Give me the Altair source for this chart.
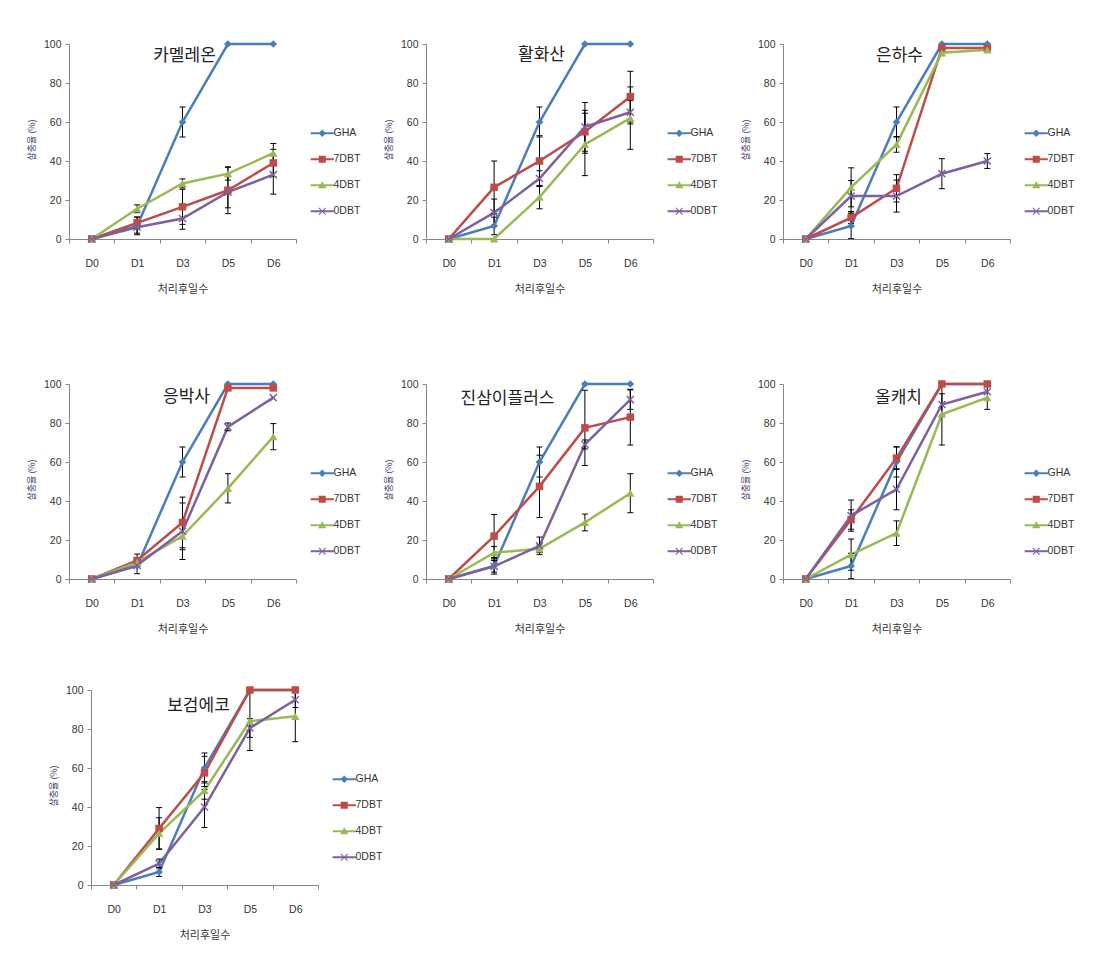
import altair as alt
import pandas as pd

days = ["D0", "D1", "D3", "D5", "D6"]
series = ["GHA", "7DBT", "4DBT", "0DBT"]
colors = ["#4A7EBB", "#BE4B48", "#98B954", "#7D60A0"]
titles = ["카멜레온", "활화산", "은하수", "응박사", "진삼이플러스", "올캐치", "보검에코"]

# mean kill rate (%) per series, order GHA, 7DBT, 4DBT, 0DBT ; err = half length of error bar
m_chameleon = [[0, 6.7, 60, 100, 100], [0, 8.3, 16.5, 25, 39], [0, 15.5, 28.5, 33.5, 44], [0, 6, 10.5, 24, 33]]
e_chameleon = [[0, 4.5, 7.7, 0, 0], [0, 3, 9, 12, 7], [0, 2, 2.3, 3.3, 5], [0, 3, 5.5, 8, 10]]
m_hwalhwasan = [[0, 6.7, 60, 100, 100], [0, 26.5, 40, 55, 73], [0, 0, 21.5, 48.5, 62], [0, 13.5, 31, 57.5, 65]]
e_hwalhwasan = [[0, 4.5, 7.7, 0, 0], [0, 13.5, 13, 11, 13], [0, 0, 6, 16, 16], [0, 7, 4, 12.5, 6]]
m_eunhasu = [[0, 6.7, 60, 100, 100], [0, 11, 26, 98, 98], [0, 26.5, 48.5, 95.5, 97], [0, 22, 22, 33.5, 40]]
e_eunhasu = [[0, 6.5, 7.7, 0, 0], [0, 3, 7, 0, 0], [0, 10, 4, 0, 0], [0, 8, 8.2, 7.7, 3.8]]
m_eungbaksa = [[0, 6.7, 60, 100, 100], [0, 9.5, 29, 98, 98], [0, 8.5, 22, 46.5, 73], [0, 7, 24.5, 78, 93]]
e_eungbaksa = [[0, 4, 7.7, 0, 0], [0, 3.3, 13, 0, 0], [0, 0, 7, 7.5, 6.7], [0, 0, 14.5, 2, 0]]
m_jinsamplus = [[0, 6.7, 60, 100, 100], [0, 22, 47.5, 77.5, 83], [0, 13.5, 15.5, 29, 44], [0, 6.5, 17, 69, 92]]
e_jinsamplus = [[0, 4.2, 7.7, 0, 0], [0, 11.1, 16, 19.3, 14.3], [0, 3.2, 2, 4.3, 10], [0, 3, 4.5, 2.3, 5]]
m_olcatch = [[0, 6.7, 60, 100, 100], [0, 30.5, 62, 100, 100], [0, 12.5, 23.5, 84.5, 93], [0, 32.5, 46, 89.5, 96]]
e_olcatch = [[0, 6.5, 7.7, 0, 0], [0, 5, 5.8, 0, 0], [0, 8, 6.3, 15.8, 6], [0, 8, 10.5, 5.5, 0]]
m_bogeomeco = [[0, 6.7, 60, 100, 100], [0, 29, 57.5, 100, 100], [0, 26.5, 48.5, 84, 86.5], [0, 11, 40, 80.5, 95]]
e_bogeomeco = [[0, 2.3, 7.7, 0, 0], [0, 10.7, 8.5, 0, 0], [0, 8, 4.5, 15, 13], [0, 2.3, 10.5, 4.8, 4]]

means = [m_chameleon, m_hwalhwasan, m_eunhasu, m_eungbaksa, m_jinsamplus, m_olcatch, m_bogeomeco]
errs = [e_chameleon, e_hwalhwasan, e_eunhasu, e_eungbaksa, e_jinsamplus, e_olcatch, e_bogeomeco]

W, H = 227, 195
GRAY = "#868686"
TXT = "#333333"
FONT = "Liberation Sans, Arial, Noto Sans CJK KR, sans-serif"
KFONT = "Noto Sans CJK KR, sans-serif"

XPATH_PT = "M-1,-1L1,1M-1,1L1,-1"
BAR = "M-3.1,-0.3L3.1,-0.3L3.1,0.3L-3.1,0.3Z"
leg_paths = [
    BAR + "M0,-1L1,0L0,1L-1,0Z",
    BAR + "M-0.95,-0.95L0.95,-0.95L0.95,0.95L-0.95,0.95Z",
    BAR + "M0,-1.1L1.1,0.8L-1.1,0.8Z",
    BAR + "M-1,-0.8L-0.8,-1L1,0.8L0.8,1ZM0.8,-1L1,-0.8L-0.8,1L-1,0.8Z",
]
pt_shapes = ["diamond", "square", "triangle-up", XPATH_PT]
pt_sizes = [60, 56, 70, 50]

# per panel: extra top space, extra left space, title dx, title offset
layout = [
    (0, 0, 2, -34),
    (0, 0, 2, -33),
    (0, 0, 3, -34),
    (34, 0, 4, -64),
    (34, 0, -32, -66),
    (34, 0, 2, -65),
    (0, 22, 16, -38),
]


def make_panel(title, mv, ev, top, left, tdx, toff):
    rows = []
    for s, ms, es in zip(series, mv, ev):
        for d, v, e in zip(days, ms, es):
            rows.append({"day": d, "series": s, "value": v, "err": e,
                         "lo": max(v - e, 0), "hi": v + e})
    df = pd.DataFrame(rows)
    height = H + top
    xs = alt.Scale(type="band", domain=days, paddingInner=0, paddingOuter=0,
                   range=[left, left + W])
    ys = alt.Scale(domain=[0, 100], nice=False, range=[height, top])
    xaxis = alt.Axis(title="처리후일수", tickBand="extent", tickSize=4, tickColor=GRAY,
                     domainColor=GRAY, labelAngle=0, labelFont=FONT, labelFontSize=10.5,
                     labelColor=TXT, labelBaseline="middle", labelPadding=20,
                     titleFont=KFONT, titleFontSize=11, titleFontWeight="normal",
                     titleColor=TXT, titleBaseline="middle", titleY=50, grid=False)
    yaxis = alt.Axis(title="살충율  (%)", values=[0, 20, 40, 60, 80, 100], tickSize=4,
                     tickColor=GRAY, domainColor=GRAY, labelFont=FONT, labelFontSize=10.5,
                     labelColor=TXT, labelPadding=4, titleFont=KFONT, titleFontSize=9,
                     titleFontWeight="normal", titleColor="#3A3A6A", titleX=-38,
                     titleY=top + H / 2 - 2, titleBaseline="middle", offset=-left, grid=False)
    X = alt.X("day:N", sort=days, scale=xs, axis=xaxis)
    base = alt.Chart(df).encode(x=X, y=alt.Y("value:Q", scale=ys, axis=yaxis))

    lines = []
    for s, c in zip(series, colors):
        lines.append(base.transform_filter(alt.datum.series == s).mark_line(
            strokeWidth=2.5, color=c))
    eb = alt.Chart(df).transform_filter("datum.err > 0")
    rules = eb.mark_rule(color="black", strokeWidth=1).encode(
        x=X, y=alt.Y("lo:Q", scale=ys, axis=yaxis), y2="hi:Q")
    cap_lo = eb.mark_tick(color="black", size=6, thickness=1, orient="horizontal",
                          opacity=1).encode(x=X, y=alt.Y("lo:Q", scale=ys, axis=yaxis))
    cap_hi = eb.mark_tick(color="black", size=6, thickness=1, orient="horizontal",
                          opacity=1).encode(x=X, y=alt.Y("hi:Q", scale=ys, axis=yaxis))
    pts = []
    for s, c, shp, sz in zip(series, colors, pt_shapes, pt_sizes):
        filled = s != "0DBT"
        pts.append(base.transform_filter(alt.datum.series == s).mark_point(
            shape=shp, filled=filled, color=c, size=sz, opacity=1, strokeWidth=1.5))
    legend = alt.Legend(title=None, orient="none", legendX=left + 248, legendY=top + 84,
                        symbolSize=56, symbolStrokeWidth=0, symbolOpacity=1,
                        labelFont=FONT, labelFontSize=10.5, labelColor=TXT,
                        labelOffset=6, rowPadding=15, padding=0)
    leg = base.transform_filter("false").mark_point(filled=True, opacity=1).encode(
        color=alt.Color("series:N", scale=alt.Scale(domain=series, range=colors),
                        legend=legend),
        shape=alt.Shape("series:N", scale=alt.Scale(domain=series, range=leg_paths),
                        legend=legend))
    return alt.layer(*lines, rules, cap_lo, cap_hi, *pts, leg).properties(
        width=W, height=height,
        title=alt.TitleParams(text=title, font=KFONT, fontSize=17, fontWeight="normal",
                              color="#222222", anchor="middle", frame="group",
                              baseline="middle", dx=tdx, offset=toff))


panels = [make_panel(t, m, e, *lay) for t, m, e, lay in zip(titles, means, errs, layout)]

chart = alt.concat(*panels, columns=3, spacing={"row": 111, "column": 130},
                   bounds="flush").resolve_scale(
    color="independent", shape="independent", x="independent", y="independent"
).resolve_legend(color="independent", shape="independent").properties(
    padding={"left": 19, "top": 31, "right": 5, "bottom": 5}, background="white"
).configure_view(stroke="transparent", strokeWidth=0)

chart.save("out.html", embed_options={"renderer": "svg", "actions": False})
